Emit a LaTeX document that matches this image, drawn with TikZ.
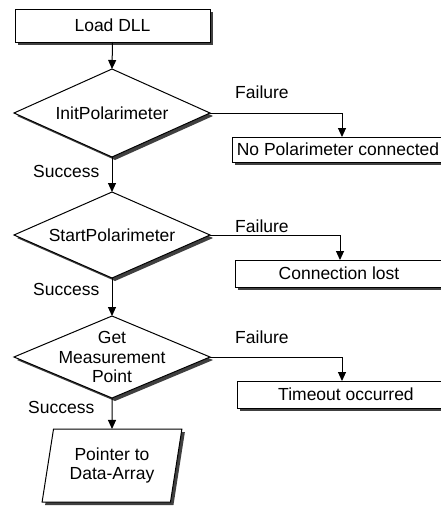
\documentclass[tikz,border=0pt]{standalone}
\usepackage{fontspec}
\setmainfont{Liberation Sans}
\usetikzlibrary{shapes.geometric,shadows,arrows.meta}
\begin{document}
\begin{tikzpicture}[x=1pt,y=-1pt,
  font=\fontsize{17.5}{19.5}\selectfont,
  shd/.style={drop shadow={shadow xshift=3pt,shadow yshift=-3pt,fill=black!75,opacity=1}},
  boxnode/.style={draw,line width=1pt,fill=white,shd,inner sep=0pt,outer sep=0pt},
  dia/.style={boxnode,diamond,inner sep=0pt,minimum width=196pt},
  lbl/.style={align=center,inner sep=0pt},
  tag/.style={anchor=west,inner sep=0pt},
  arr/.style={line width=1pt,-{Triangle[length=9pt,width=8pt]}}]
\useasboundingbox (0,0) rectangle (441,507);

\node[boxnode,minimum width=195pt,minimum height=33pt] (load) at (112.5,25.5) {Load DLL};

\node[dia,minimum height=88pt,label={[lbl]center:InitPolarimeter}] (d1) at (112,113) {};
\node[dia,minimum height=86pt,label={[lbl]center:StartPolarimeter}] (d2) at (112,235) {};
\node[dia,minimum height=82pt,label={[lbl]center:Get\\Measurement\\Point}] (d3) at (112,357) {};

\node[boxnode,trapezium,trapezium left angle=77,trapezium right angle=103,
      trapezium stretches=true,minimum width=140pt,minimum height=73pt,align=center] (ptr) at (112,465.5) {Pointer to\\Data-Array};

\node[boxnode,minimum width=212pt,minimum height=25pt] (f1) at (338,149.5) {No Polarimeter connected};
\node[boxnode,minimum width=208pt,minimum height=27pt] (f2) at (339,273.5) {Connection lost};
\node[boxnode,minimum width=218pt,minimum height=27pt] (f3) at (346,394.5) {Timeout occurred};

\draw[arr] (load.south) -- (d1.north);
\draw[arr] (d1.south) -- (d2.north);
\draw[arr] (d2.south) -- (d3.north);
\draw[arr] (d3.south) -- (ptr.north);

\draw[arr] (d1.east) -| ([xshift=4pt]f1.north);
\draw[arr] (d2.east) -| ([xshift=1pt]f2.north);
\draw[arr] (d3.east) -| ([xshift=-4pt]f3.north);

\node[tag] (fl1) at (235,92.5) {Failure};
\node[tag] (fl2) at (235,226) {Failure};
\node[tag] (fl3) at (235,337.5) {Failure};

\node[tag] (sl1) at (33,171) {Success};
\node[tag] (sl2) at (33,289) {Success};
\node[tag] (sl3) at (28,407) {Success};
\end{tikzpicture}
\end{document}
